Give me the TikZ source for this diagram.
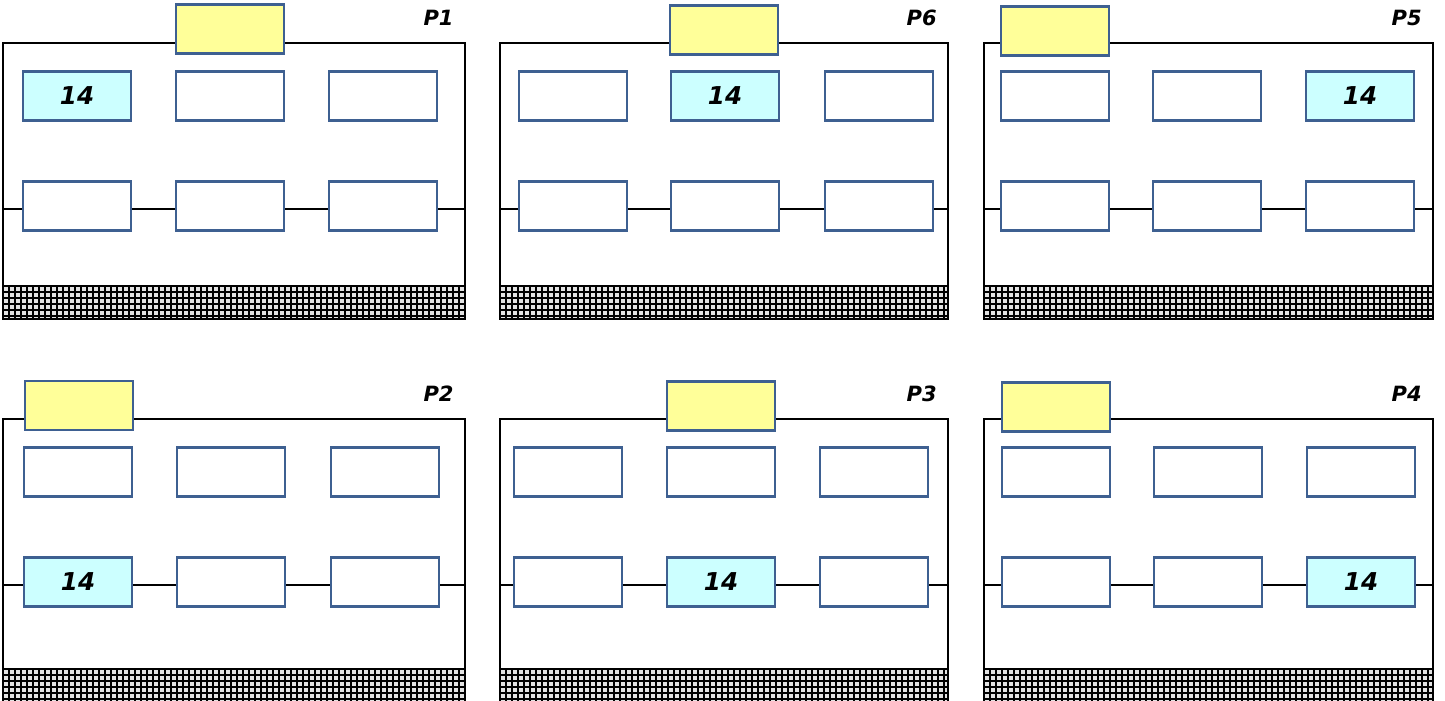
\documentclass[tikz,border=0pt]{standalone}
\usepackage{fontspec}
\newfontfamily\lblfont{DejaVu Sans}
\definecolor{boxline}{RGB}{62,96,145}
\definecolor{ylw}{RGB}{255,255,153}
\definecolor{cyn}{RGB}{204,255,255}
\tikzset{
  frameline/.style={draw=black, line width=1.2pt},
  gridline/.style={draw=black, line width=0.75pt},
  conn/.style={draw=black, line width=1.1pt},
  basebox/.style={draw=boxline, line width=1.25pt, rectangle, minimum width=54pt, minimum height=24.5pt, inner sep=0pt},
  wbox/.style={basebox, fill=white},
  cybox/.style={basebox, fill=cyn, font=\lblfont\fontsize{12.3}{14}\selectfont\bfseries\itshape},
  ybox/.style={basebox, fill=ylw},
  plabel/.style={anchor=east, inner sep=0pt, font=\lblfont\fontsize{10.5}{12}\selectfont\bfseries\itshape}
}
\begin{document}
\begin{tikzpicture}[x=0.5pt, y=-0.5pt]
\useasboundingbox (0,0) rectangle (1445,701);
\foreach \lab/\L/\R/\dy/\hb/\yx/\yy/\ca/\cb/\cc/\cy in {
  P1/3/465/0/286/175/29/22/175/328/11,
  P6/500/948/0/286/669/30/518/670/824/12,
  P5/984/1433/0/286/1000/31/1000/1152/1305/13,
  P2/3/465/376/669/24/405.5/23/176/330/21,
  P3/500/948/376/669/666/406/513/666/819/22,
  P4/984/1433/376/669/1001/407/1001/1153/1306/23}{
  % hatched base
  \fill[gray!22] (\L,\hb) rectangle (\R,\hb+33);
  \begin{scope}
    \clip (\L,\hb) rectangle (\R,\hb+33);
    \foreach \i in {1,...,78} \draw[gridline] (\L+\i*6,\hb) -- ++(0,33);
    \foreach \j in {1,...,5} \draw[gridline] (\L,\hb+\j*6) -- (\R,\hb+\j*6);
  \end{scope}
  % frame
  \draw[frameline] (\L,43+\dy) -- (\R,43+\dy) -- (\R,\hb+33) -- (\L,\hb+33) -- cycle;
  \draw[frameline] (\L,\hb) -- (\R,\hb);
  % label
  \node[plabel] (\lab t) at (\R-11,18+\dy) {\lab};
  % yellow box
  \node[ybox] (\lab y) at (\yx+55,\yy) {};
  % boxes
  \foreach \r/\ry in {1/96,2/206}{
    \foreach \c/\cx in {1/\ca,2/\cb,3/\cc}{
      \ifnum\numexpr10*\r+\c\relax=\cy\relax
        \node[cybox] (\lab b\r\c) at (\cx+55,\ry+\dy) {14};
      \else
        \node[wbox] (\lab b\r\c) at (\cx+55,\ry+\dy) {};
      \fi
    }
  }
  % connectors
  \coordinate (\lab L) at (\L,209+\dy);
  \coordinate (\lab R) at (\R,209+\dy);
  \draw[conn] (\lab L) -- (\lab L -| \lab b21.west);
  \draw[conn] (\lab L -| \lab b21.east) -- (\lab L -| \lab b22.west);
  \draw[conn] (\lab L -| \lab b22.east) -- (\lab L -| \lab b23.west);
  \draw[conn] (\lab L -| \lab b23.east) -- (\lab R);
}
\end{tikzpicture}
\end{document}
